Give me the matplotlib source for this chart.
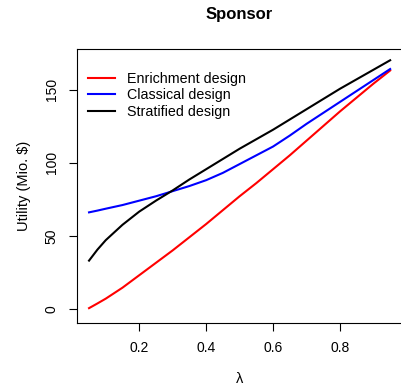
import matplotlib
matplotlib.use("Agg")
from matplotlib import pyplot as plt

plt.rcParams['font.family'] = ['Liberation Sans', 'DejaVu Sans']

lam = [0.05, 0.075, 0.1, 0.15, 0.2, 0.25, 0.3, 0.35, 0.4, 0.45, 0.5,
       0.55, 0.6, 0.65, 0.7, 0.75, 0.8, 0.85, 0.9, 0.95]
enrichment = [0.5, 3.7, 7, 14.5, 23, 31.5, 40, 49, 58, 67.5, 77,
              86, 95.5, 105, 115, 125, 135, 144.5, 154, 163]
classical = [66, 67.2, 68.5, 71, 74, 77, 80.5, 84, 88, 93, 99,
             105, 111, 118.5, 126.5, 134, 141.5, 149, 156.5, 164]
stratified = [33, 40.5, 47, 57.5, 66.5, 74, 81, 88.5, 95.5, 102.5, 109.5,
              116, 122.5, 129.5, 136.5, 143.5, 150.5, 157, 163.5, 170]

xticks = [0.2, 0.4, 0.6, 0.8]
yticks = [0, 50, 100, 150]

fig = plt.figure(figsize=(4.01, 3.9), dpi=100)
ax = fig.add_axes([0.192, 0.172, 0.811, 0.702])

ax.plot(lam, enrichment, color='#FF0000', lw=1.5, label='Enrichment design')
ax.plot(lam, classical, color='#0000FF', lw=1.5, label='Classical design')
ax.plot(lam, stratified, color='black', lw=1.5, label='Stratified design')

ax.set_xlim(0.014, 0.986)
ax.set_ylim(-9.6, 177.6)
ax.set_xticks(xticks)
ax.set_xticklabels([str(t) for t in xticks])
ax.set_yticks(yticks)
ax.set_yticklabels([str(t) for t in yticks], rotation=90, va='center')
ax.tick_params(length=6, width=0.8, labelsize=10, pad=7)
for s in ax.spines.values():
    s.set_linewidth(0.8)

ax.set_title('Sponsor', fontsize=12, fontweight='bold', pad=22)
ax.set_xlabel('λ', fontsize=10.5, labelpad=12)
ax.set_ylabel('Utility (Mio. $)', fontsize=10.5, labelpad=10)

ax.legend(loc='upper left', frameon=False, fontsize=10.3, handlelength=1.9,
          handletextpad=0.8, labelspacing=0.18, borderaxespad=0.5,
          bbox_to_anchor=(-0.005, 0.965))

fig.savefig('out.png', dpi=100)
